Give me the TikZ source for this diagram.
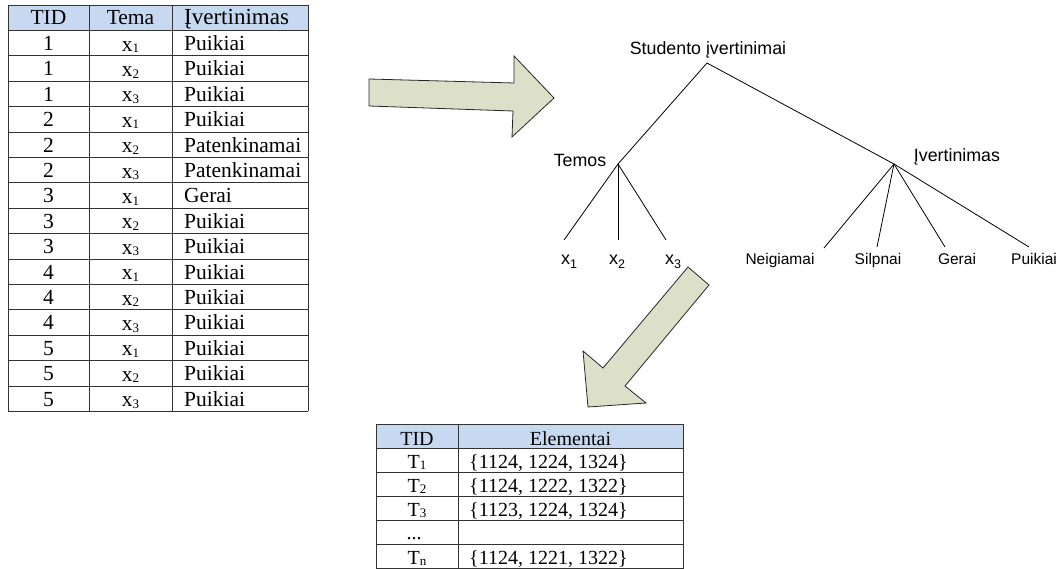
\documentclass[tikz,border=0pt]{standalone}
\usepackage{fontspec}
\setmainfont{Liberation Serif}
\newfontfamily\treefont{Liberation Sans}
\usetikzlibrary{calc}
\usetikzlibrary{scopes}

\definecolor{headblue}{HTML}{C6D9F1}
\definecolor{arrowfill}{HTML}{DDE0C9}

\newcommand{\tabsub}[1]{\raisebox{-1.5pt}{\fontsize{13}{13}\selectfont #1}}
\newcommand{\treesub}[1]{\raisebox{-4pt}{\fontsize{12.5}{12.5}\selectfont #1}}

\tikzset{
    cell/.style={inner sep=0pt, anchor=base},
    lcell/.style={inner sep=0pt, anchor=base west},
    tabA/.style={font=\fontsize{21.5}{24}\selectfont},
    tabB/.style={font=\fontsize{20}{22}\selectfont},
    gridline/.style={draw=black!80, line width=0.9pt},
    treebig/.style={font=\treefont\fontsize{17.8}{20}\selectfont, inner sep=0pt, anchor=base},
    treesmall/.style={font=\treefont\fontsize{15.5}{18}\selectfont, inner sep=0pt, anchor=base},
    treevar/.style={font=\treefont\fontsize{18}{20}\selectfont, inner sep=0pt, anchor=base},
    branch/.style={draw=black, line width=0.8pt},
    bigarrow/.style={fill=arrowfill, draw=black!85, line width=0.8pt, line join=miter}
}

\begin{document}
\begin{tikzpicture}[x=1pt,y=-1pt]
    \useasboundingbox (0,0) rectangle (1061,569);
    { [tabA]
        \fill [headblue] (8,5) rectangle (308,30.4);
        \foreach \k in {0,...,16}
            \draw [gridline] (8,5+25.4*\k) -- (308,5+25.4*\k);
        \foreach \cx in {8,89,172,308}
            \draw [gridline] (\cx,5) -- (\cx,411.4);
        \node [cell] (l-tid) at (48.5,25) {TID};
        \node [cell] (l-tema) at (130.5,25) {Tema};
        \node [lcell, font=\fontsize{23}{24}\selectfont] (l-ivert) at (184,25) {Įvertinimas};
        \foreach \tid/\tema/\ivert [count=\r] in {1/1/Puikiai, 1/2/Puikiai, 1/3/Puikiai,
                2/1/Puikiai, 2/2/Patenkinamai, 2/3/Patenkinamai, 3/1/Gerai, 3/2/Puikiai,
                3/3/Puikiai, 4/1/Puikiai, 4/2/Puikiai, 4/3/Puikiai, 5/1/Puikiai,
                5/2/Puikiai, 5/3/Puikiai} {
            \node [cell] (l\r-tid) at (48.5,25.2+25.4*\r) {\tid};
            \node [cell] (l\r-tema) at (130.5,25.8+25.4*\r) {x\tabsub{\tema}};
            \node [lcell] (l\r-ivert) at (184,25.2+25.4*\r) {\ivert};
        }
    }
    { [tabB]
        \fill [headblue] (376,424) rectangle (683,448.2);
        \foreach \k in {0,...,6}
            \draw [gridline] (376,424+24.1*\k) -- (683,424+24.1*\k);
        \foreach \cx in {376,458,683}
            \draw [gridline] (\cx,424) -- (\cx,568.6);
        \node [cell] (b-tid) at (417,445.5) {TID};
        \node [cell] (b-elem) at (570.5,445.5) {Elementai};
        \node [cell] (b1-tid) at (417,468) {T\tabsub{1}};
        \node [lcell] (b1-elem) at (469,468) {\{1124, 1224, 1324\}};
        \node [cell] (b2-tid) at (417,492.1) {T\tabsub{2}};
        \node [lcell] (b2-elem) at (469,492.1) {\{1124, 1222, 1322\}};
        \node [cell] (b3-tid) at (417,516.2) {T\tabsub{3}};
        \node [lcell] (b3-elem) at (469,516.2) {\{1123, 1224, 1324\}};
        \node [cell] (b4-tid) at (414,539) {...};
        \node [cell] (bn-tid) at (417,564) {T\tabsub{n}};
        \node [lcell] (bn-elem) at (469,564) {\{1124, 1221, 1322\}};
    }

    \draw [bigarrow] (369,79) -- (514,83) -- (514,56) -- (554,98) -- (512,137)
        -- (513,111) -- (369,106) -- cycle;
    \draw [bigarrow] (688,267) -- (709,285) -- (625,386) -- (646,403) -- (588,407)
        -- (583,351) -- (603,368) -- cycle;

    \node [treebig] (root-lbl) at (708,55) {Studento įvertinimai};
    \node [treebig] (temos-lbl) at (580,167) {Temos};
    \node [treebig] (ivert-lbl) at (957,162) {Įvertinimas};
    \node [treevar] (x1) at (569,265) {x\treesub{1}};
    \node [treevar] (x2) at (617,265) {x\treesub{2}};
    \node [treevar] (x3) at (673,265) {x\treesub{3}};
    \node [treesmall] (neig) at (780,265) {Neigiamai};
    \node [treesmall] (silp) at (878,265) {Silpnai};
    \node [treesmall] (gerai) at (957,265) {Gerai};
    \node [treesmall] (puik) at (1034,265) {Puikiai};

    \coordinate (root) at (707,63);
    \coordinate (temos) at (618,164);
    \coordinate (ivert) at (894,164);
    \coordinate (x1-end) at (564,240);
    \coordinate (x2-end) at (618,240);
    \coordinate (x3-end) at (666,240);
    \coordinate (neig-end) at (824,248);
    \coordinate (silp-end) at (877,247);
    \coordinate (gerai-end) at (945,247);
    \coordinate (puik-end) at (1029,247);

    \draw [branch] (temos) -- (root) -- (ivert);
    \draw [branch] (temos) -- (x1-end);
    \draw [branch] (temos) -- (x2-end);
    \draw [branch] (temos) -- (x3-end);
    \draw [branch] (ivert) -- (neig-end);
    \draw [branch] (ivert) -- (silp-end);
    \draw [branch] (ivert) -- (gerai-end);
    \draw [branch] (ivert) -- (puik-end);
\end{tikzpicture}
\end{document}
